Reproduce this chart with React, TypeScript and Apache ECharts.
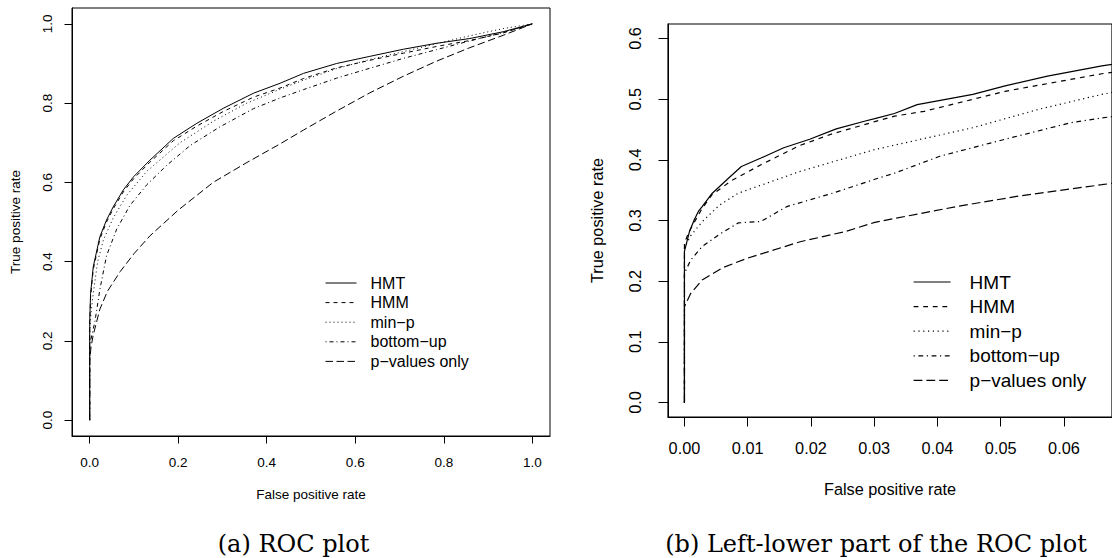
import React, { useEffect, useRef } from "react";
import * as echarts from "echarts";

// ---------- data ----------
const SERIES_NAMES = ["HMT", "HMM", "min−p", "bottom−up", "p−values only"];

// Panel (a): full ROC curves [FPR, TPR]
const FULL_HMT = [
  [0, 0], [0, 0.25], [0.002, 0.32], [0.008, 0.387], [0.023, 0.463], [0.038, 0.505],
  [0.053, 0.538], [0.076, 0.581], [0.099, 0.614], [0.136, 0.656], [0.189, 0.711],
  [0.242, 0.749], [0.302, 0.787], [0.37, 0.825], [0.43, 0.85], [0.483, 0.875],
  [0.558, 0.9], [0.633, 0.918], [0.709, 0.936], [0.784, 0.951], [0.859, 0.963],
  [0.934, 0.98], [1, 1],
];
const FULL_HMM = [
  [0, 0], [0, 0.24], [0.002, 0.31], [0.008, 0.38], [0.023, 0.457], [0.038, 0.5],
  [0.053, 0.533], [0.076, 0.576], [0.099, 0.609], [0.136, 0.651], [0.189, 0.705],
  [0.242, 0.742], [0.302, 0.779], [0.37, 0.815], [0.43, 0.838], [0.483, 0.862],
  [0.558, 0.889], [0.633, 0.908], [0.709, 0.926], [0.784, 0.943], [0.859, 0.958],
  [0.934, 0.977], [1, 1],
];
const FULL_MINP = [
  [0, 0], [0, 0.22], [0.003, 0.27], [0.008, 0.32], [0.018, 0.4], [0.031, 0.455],
  [0.053, 0.51], [0.084, 0.568], [0.129, 0.628], [0.204, 0.7], [0.279, 0.754],
  [0.355, 0.8], [0.43, 0.835], [0.483, 0.858], [0.558, 0.887], [0.633, 0.91],
  [0.709, 0.93], [0.784, 0.95], [0.859, 0.97], [0.934, 0.988], [1, 1],
];
const FULL_BOTTOMUP = [
  [0, 0], [0, 0.19], [0.005, 0.215], [0.012, 0.25], [0.023, 0.33], [0.038, 0.415],
  [0.061, 0.482], [0.091, 0.542], [0.129, 0.594], [0.174, 0.643], [0.227, 0.693],
  [0.294, 0.74], [0.37, 0.786], [0.43, 0.813], [0.483, 0.834], [0.558, 0.863],
  [0.633, 0.888], [0.709, 0.913], [0.784, 0.935], [0.859, 0.957], [0.934, 0.978],
  [1, 1],
];
const FULL_PVALUES = [
  [0, 0], [0, 0.15], [0.003, 0.185], [0.008, 0.215], [0.023, 0.28], [0.04, 0.325],
  [0.069, 0.375], [0.1, 0.42], [0.136, 0.465], [0.2, 0.53], [0.279, 0.6],
  [0.355, 0.65], [0.43, 0.697], [0.483, 0.732], [0.558, 0.78], [0.633, 0.826],
  [0.709, 0.868], [0.784, 0.906], [0.859, 0.94], [0.934, 0.971], [1, 1],
];

// Panel (b): left-lower part of the ROC curves
const ZOOM_HMT = [
  [0, 0], [0, 0.249], [0.0008, 0.282], [0.0015, 0.3], [0.0022, 0.315], [0.0028, 0.323],
  [0.0044, 0.345], [0.007, 0.37], [0.009, 0.389], [0.0121, 0.403], [0.0157, 0.42],
  [0.0198, 0.434], [0.024, 0.451], [0.0286, 0.464], [0.0301, 0.468], [0.0332, 0.4765],
  [0.0368, 0.491], [0.0456, 0.508], [0.0507, 0.522], [0.0574, 0.538], [0.066, 0.555],
  [0.068, 0.558],
];
const ZOOM_HMM = [
  [0, 0], [0, 0.263], [0.0008, 0.283], [0.0028, 0.32], [0.0044, 0.343], [0.0075, 0.366],
  [0.0121, 0.392], [0.0183, 0.424], [0.0234, 0.443], [0.0301, 0.463], [0.0332, 0.472],
  [0.0379, 0.48], [0.0507, 0.513], [0.066, 0.542], [0.068, 0.545],
];
const ZOOM_MINP = [
  [0, 0], [0, 0.255], [0.001, 0.275], [0.0028, 0.298], [0.0055, 0.325], [0.0085, 0.345],
  [0.0183, 0.381], [0.0301, 0.417], [0.0456, 0.453], [0.0559, 0.483], [0.066, 0.508],
  [0.068, 0.512],
];
const ZOOM_BOTTOMUP = [
  [0, 0], [0, 0.213], [0.001, 0.235], [0.0028, 0.257], [0.0055, 0.277], [0.0085, 0.296],
  [0.0121, 0.2985], [0.0162, 0.323], [0.0234, 0.345], [0.0301, 0.368], [0.0332, 0.378],
  [0.0404, 0.406], [0.0507, 0.434], [0.061, 0.461], [0.066, 0.469], [0.068, 0.472],
];
const ZOOM_PVALUES = [
  [0, 0], [0, 0.158], [0.001, 0.18], [0.0028, 0.202], [0.006, 0.222], [0.01, 0.238],
  [0.0183, 0.265], [0.0255, 0.282], [0.0301, 0.297], [0.043, 0.323], [0.0533, 0.341],
  [0.066, 0.359], [0.068, 0.362],
];

const FULL_X_TICKS = [0, 0.2, 0.4, 0.6, 0.8, 1.0];
const FULL_Y_TICKS = [0, 0.2, 0.4, 0.6, 0.8, 1.0];
const ZOOM_X_TICKS = [0, 0.01, 0.02, 0.03, 0.04, 0.05, 0.06];
const ZOOM_Y_TICKS = [0, 0.1, 0.2, 0.3, 0.4, 0.5, 0.6];

const X_TITLE = "False positive rate";
const Y_TITLE = "True positive rate";
const CAPTIONS = ["(a) ROC plot", "(b) Left-lower part of the ROC plot"];

const FULL_DATA = [FULL_HMT, FULL_HMM, FULL_MINP, FULL_BOTTOMUP, FULL_PVALUES];
const ZOOM_DATA = [ZOOM_HMT, ZOOM_HMM, ZOOM_MINP, ZOOM_BOTTOMUP, ZOOM_PVALUES];

// ---------- styles ----------
const SANS = "'Liberation Sans', Arial, Helvetica, sans-serif";
const SERIF = "'DejaVu Serif', serif";
const DASH_FULL: any[] = ["solid", [4, 4], [1, 3], [1, 3, 4, 3], [7.5, 3.5]];
const DASH_ZOOM: any[] = ["solid", [4.8, 4.8], [1.2, 3.6], [1.2, 3.6, 4.8, 3.6], [8.8, 4]];

function makeAxis(
  gridIndex: number, min: number, max: number, ticks: number[], digits: number,
  fontSize: number, tickLen: number, margin: number, name: string, nameGap: number,
  rotate = 0
) {
  return {
    gridIndex,
    type: "value",
    min,
    max,
    axisLine: { show: true, onZero: false, lineStyle: { color: "#000", width: 1 } },
    splitLine: { show: false },
    axisTick: { show: true, customValues: ticks, length: tickLen, lineStyle: { color: "#000", width: 1 } },
    axisLabel: {
      customValues: ticks,
      formatter: (v: number) => v.toFixed(digits),
      margin,
      fontSize,
      rotate,
      color: "#000",
      fontFamily: SANS,
    },
    name,
    nameLocation: "middle",
    nameGap,
    nameTextStyle: { fontSize, color: "#000", fontFamily: SANS },
  };
}

export default function App() {
  const ref = useRef<HTMLDivElement>(null);

  useEffect(() => {
    if (!ref.current) return;
    const chart = echarts.init(ref.current, undefined, { renderer: "svg" });

    const series: any[] = [];
    SERIES_NAMES.forEach((name, i) => {
      series.push({
        type: "line", name, xAxisIndex: 0, yAxisIndex: 0, data: FULL_DATA[i],
        symbol: "none", showSymbol: false, silent: true, clip: true,
        lineStyle: { color: "#000", width: 1, type: DASH_FULL[i] },
      });
    });
    SERIES_NAMES.forEach((name, i) => {
      series.push({
        type: "line", name, xAxisIndex: 1, yAxisIndex: 1, data: ZOOM_DATA[i],
        symbol: "none", showSymbol: false, silent: true, clip: true,
        lineStyle: { color: "#000", width: 1.2, type: DASH_ZOOM[i] },
      });
    });

    chart.setOption({
      animation: false,
      backgroundColor: "#fff",
      grid: [
        { left: 72, top: 8, width: 478, height: 428, show: true, borderColor: "#000", borderWidth: 1, backgroundColor: "transparent" },
        { left: 668, top: 24, width: 454, height: 393, show: true, borderColor: "#000", borderWidth: 1.2, backgroundColor: "transparent" },
      ],
      xAxis: [
        makeAxis(0, -0.04, 1.04, FULL_X_TICKS, 1, 13.5, 7.5, 19, X_TITLE, 51),
        makeAxis(1, -0.0026, 0.0676, ZOOM_X_TICKS, 2, 16.3, 9.5, 23, X_TITLE, 64),
      ],
      yAxis: [
        makeAxis(0, -0.04, 1.04, FULL_Y_TICKS, 1, 13.5, 7.5, 18, Y_TITLE, 50, 90),
        makeAxis(1, -0.024, 0.624, ZOOM_Y_TICKS, 1, 16.3, 9.5, 25, Y_TITLE, 63, 90),
      ],
      legend: [
        {
          left: 325, top: 275, orient: "vertical", selectedMode: false, padding: 0,
          itemWidth: 31, itemHeight: 16, itemGap: 3.6,
          textStyle: { fontSize: 16, lineHeight: 16, color: "#000", fontFamily: SANS, padding: [0, 0, 0, 9] },
          data: SERIES_NAMES.map((n, i) => ({
            name: n, icon: "inherit",
            itemStyle: { opacity: 0 },
            lineStyle: { color: "#000", width: 1, type: DASH_FULL[i] },
          })),
        },
        {
          left: 913, top: 272.5, orient: "vertical", selectedMode: false, padding: 0,
          itemWidth: 37, itemHeight: 19, itemGap: 5.6,
          textStyle: { fontSize: 19, lineHeight: 19, color: "#000", fontFamily: SANS, padding: [0, 0, 0, 14] },
          data: SERIES_NAMES.map((n, i) => ({
            name: n, icon: "inherit",
            itemStyle: { opacity: 0 },
            lineStyle: { color: "#000", width: 1.2, type: DASH_ZOOM[i] },
          })),
        },
      ],
      graphic: [
        { type: "text", x: 293.5, y: 544, style: { text: CAPTIONS[0], fontFamily: SERIF, fontSize: 24, fill: "#000", align: "center", verticalAlign: "middle" } },
        { type: "text", x: 876, y: 544, style: { text: CAPTIONS[1], fontFamily: SERIF, fontSize: 24, fill: "#000", align: "center", verticalAlign: "middle" } },
      ],
      series,
    });

    return () => chart.dispose();
  }, []);

  return (
    <div
      ref={ref}
      style={{ position: "absolute", left: 0, top: 0, width: 1112, height: 558, background: "#fff" }}
    />
  );
}
